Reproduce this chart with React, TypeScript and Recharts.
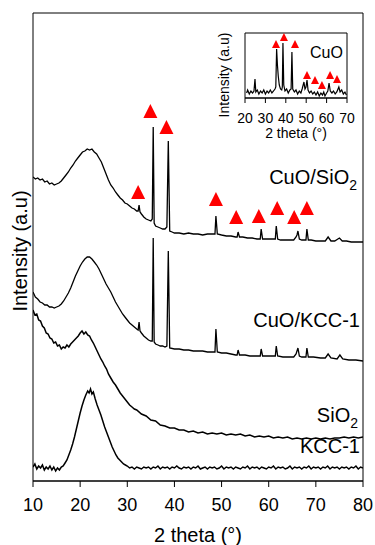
import React from 'react';
import { ComposedChart, Line, Scatter, XAxis, YAxis, ReferenceArea } from 'recharts';

// 2 theta ticks
const mainTicks = [10, 20, 30, 40, 50, 60, 70, 80];
const insetTicks = [20, 30, 40, 50, 60, 70];

// curves: [2theta, intensity (offset, a.u.)]
const cuoSio2: [number, number][] = [
  [10.0, 304], [10.5, 302], [11.0, 303], [11.5, 301], [12.0, 302], [12.5, 299], [13.0, 300], [13.5, 297],
  [14.0, 298], [14.5, 296], [15.0, 297], [15.5, 298], [16.0, 300], [16.5, 303], [17.0, 306], [17.5, 309],
  [18.0, 313], [18.5, 316], [19.0, 320], [19.5, 323], [20.0, 326], [20.5, 329], [21.0, 330], [21.5, 332],
  [22.0, 331], [22.5, 332], [23.0, 329], [23.5, 327], [24.0, 323], [24.5, 319], [25.0, 313], [25.5, 307],
  [26.0, 301], [26.5, 296], [27.0, 293], [27.5, 289], [28.0, 286], [28.5, 283], [29.0, 281], [29.5, 278],
  [30.0, 277], [30.5, 275], [31.0, 273], [31.5, 272], [32.0, 270], [32.3, 270], [32.5, 276], [32.7, 269],
  [33.0, 267], [33.5, 264], [34.0, 262], [34.5, 261], [35.0, 260], [35.3, 262], [35.5, 354], [35.7, 258],
  [36.0, 255], [36.5, 254], [37.0, 253], [37.5, 252], [38.0, 252], [38.4, 254], [38.7, 340], [39.0, 250],
  [39.5, 249], [40.0, 248], [41.0, 248], [42.0, 247], [43.0, 248], [44.0, 247], [45.0, 247], [46.0, 246],
  [47.0, 247], [48.0, 247], [48.6, 247], [48.8, 265], [49.1, 247], [50.0, 246], [51.0, 245], [52.0, 245],
  [53.0, 244], [53.3, 244], [53.5, 249], [53.8, 244], [54.5, 244], [55.5, 243], [56.5, 243], [57.5, 242],
  [58.2, 242], [58.4, 252], [58.7, 242], [59.5, 242], [60.5, 242], [61.4, 242], [61.6, 255], [61.9, 242],
  [62.5, 241], [63.5, 241], [64.5, 241], [65.3, 241], [65.8, 244], [66.0, 246], [66.2, 250], [66.5, 242],
  [67.0, 241], [67.9, 241], [68.1, 252], [68.4, 241], [69.0, 241], [70.0, 240], [71.0, 240], [72.0, 240],
  [72.6, 244], [73.2, 240], [74.0, 240], [75.0, 243], [75.6, 240], [76.5, 240], [77.5, 239], [78.5, 239],
  [80.0, 239],
];

const cuoKcc: [number, number][] = [
  [10.0, 189], [10.5, 184], [11.0, 182], [11.5, 179], [12.0, 178], [12.5, 176], [13.0, 176], [13.5, 174],
  [14.0, 174], [14.5, 173], [15.0, 174], [15.5, 175], [16.0, 177], [16.5, 180], [17.0, 184], [17.5, 188],
  [18.0, 193], [18.5, 199], [19.0, 205], [19.5, 210], [20.0, 215], [20.5, 219], [21.0, 222], [21.5, 224],
  [22.0, 224], [22.5, 222], [23.0, 219], [23.5, 216], [24.0, 212], [24.5, 207], [25.0, 202], [25.5, 197],
  [26.0, 193], [26.5, 189], [27.0, 184], [27.5, 179], [28.0, 175], [28.5, 171], [29.0, 167], [29.5, 164],
  [30.0, 161], [30.5, 158], [31.0, 156], [31.5, 154], [32.0, 152], [32.3, 151], [32.5, 159], [32.7, 150],
  [33.0, 148], [33.5, 145], [34.0, 143], [34.5, 141], [35.0, 140], [35.3, 140], [35.5, 243], [35.7, 139],
  [36.0, 137], [36.5, 136], [37.0, 135], [37.5, 135], [38.0, 134], [38.4, 135], [38.7, 230], [39.0, 133],
  [40.0, 132], [41.0, 132], [42.0, 131], [43.0, 131], [44.0, 130], [45.0, 130], [46.0, 130], [47.0, 129],
  [48.0, 129], [48.6, 129], [48.8, 152], [49.1, 129], [50.0, 128], [51.0, 128], [52.0, 127], [53.0, 126],
  [53.3, 126], [53.5, 131], [53.8, 126], [55.0, 126], [56.0, 125], [57.0, 125], [58.2, 125], [58.4, 132],
  [58.7, 125], [59.5, 125], [60.5, 125], [61.4, 125], [61.6, 135], [61.9, 125], [63.0, 124], [64.0, 124],
  [65.3, 124], [65.8, 127], [66.2, 133], [66.5, 125], [67.0, 124], [67.9, 124], [68.1, 133], [68.4, 124],
  [69.5, 124], [71.0, 123], [72.0, 123], [72.6, 127], [73.2, 123], [74.5, 122], [75.1, 126], [75.7, 122],
  [77.0, 121], [78.5, 121], [80.0, 120],
];

const sio2: [number, number][] = [
  [10.0, 171], [10.4, 166], [10.8, 167], [11.2, 161], [11.6, 160], [12.0, 155], [12.4, 153], [12.8, 148],
  [13.2, 147], [13.6, 143], [14.0, 142], [14.4, 138], [14.8, 139], [15.2, 135], [15.6, 136], [16.0, 132],
  [16.4, 134], [16.8, 133], [17.2, 136], [17.6, 134], [18.0, 137], [18.4, 139], [18.8, 141], [19.2, 143],
  [19.6, 145], [20.0, 148], [20.4, 150], [20.8, 147], [21.2, 149], [21.6, 146], [22.0, 145], [22.4, 141],
  [22.8, 138], [23.2, 134], [23.6, 130], [24.0, 126], [24.4, 122], [24.8, 119], [25.2, 115], [25.6, 112],
  [26.0, 107], [26.5, 103], [27.0, 99], [27.5, 96], [28.0, 92], [28.5, 88], [29.0, 85], [29.5, 82],
  [30.0, 79], [30.5, 76], [31.0, 74], [31.5, 72], [32.0, 71], [33.0, 67], [34.0, 65], [35.0, 61],
  [36.0, 60], [37.0, 56], [38.0, 55], [39.0, 53], [40.0, 53], [41.0, 51], [42.0, 51], [43.0, 49],
  [44.0, 50], [45.0, 48], [46.0, 49], [47.0, 47], [48.0, 48], [49.0, 47], [50.0, 48], [51.0, 46],
  [52.0, 47], [53.0, 46], [54.0, 47], [55.0, 45], [56.0, 46], [57.0, 44], [58.0, 45], [59.0, 44],
  [60.0, 45], [61.0, 43], [62.0, 44], [63.0, 43], [64.0, 44], [65.0, 42], [66.0, 43], [67.0, 42],
  [68.0, 43], [69.0, 42], [70.0, 43], [71.0, 42], [72.0, 43], [73.0, 42], [74.0, 43], [75.0, 43],
  [76.0, 44], [77.0, 43], [78.0, 44], [79.0, 43], [80.0, 44],
];

const kcc1: [number, number][] = [
  [10.0, 14], [10.4, 17], [10.8, 12], [11.2, 15], [11.6, 13], [12.0, 16], [12.4, 11], [12.8, 14],
  [13.2, 12], [13.6, 15], [14.0, 11], [14.4, 14], [14.8, 10], [15.2, 13], [15.6, 11], [16.0, 14],
  [16.4, 15], [16.8, 18], [17.2, 21], [17.6, 26], [18.0, 31], [18.4, 37], [18.8, 44], [19.2, 52],
  [19.6, 60], [20.0, 68], [20.4, 75], [20.8, 81], [21.2, 86], [21.6, 90], [21.9, 88], [22.2, 92],
  [22.5, 87], [22.8, 89], [23.2, 82], [23.6, 76], [24.0, 71], [24.4, 66], [24.8, 60], [25.2, 54],
  [25.6, 49], [26.0, 44], [26.4, 39], [26.8, 34], [27.2, 30], [27.6, 26], [28.0, 23], [28.4, 21],
  [28.8, 19], [29.2, 17], [29.6, 16], [30.0, 15], [30.5, 13], [31.0, 14], [31.5, 12], [32.0, 14],
  [32.5, 13], [33.0, 12], [33.5, 14], [34.0, 13], [34.5, 14], [35.0, 12], [35.5, 14], [36.0, 13],
  [36.5, 15], [37.0, 12], [37.5, 14], [38.0, 13], [38.5, 14], [39.0, 12], [39.5, 14], [40.0, 13],
  [40.5, 15], [41.0, 13], [41.5, 12], [42.0, 14], [42.5, 13], [43.0, 14], [43.5, 12], [44.0, 14],
  [44.5, 13], [45.0, 15], [45.5, 12], [46.0, 13], [46.5, 14], [47.0, 12], [47.5, 14], [48.0, 13],
  [48.5, 14], [49.0, 12], [49.5, 13], [50.0, 15], [50.5, 12], [51.0, 14], [51.5, 13], [52.0, 14],
  [52.5, 12], [53.0, 14], [53.5, 13], [54.0, 12], [54.5, 14], [55.0, 13], [55.5, 15], [56.0, 12],
  [56.5, 14], [57.0, 13], [57.5, 14], [58.0, 12], [58.5, 14], [59.0, 13], [59.5, 12], [60.0, 14],
  [60.5, 13], [61.0, 15], [61.5, 12], [62.0, 14], [62.5, 13], [63.0, 14], [63.5, 12], [64.0, 13],
  [64.5, 15], [65.0, 12], [65.5, 14], [66.0, 13], [66.5, 14], [67.0, 12], [67.5, 14], [68.0, 13],
  [68.5, 15], [69.0, 12], [69.5, 14], [70.0, 13], [70.5, 14], [71.0, 12], [71.5, 14], [72.0, 13],
  [72.5, 15], [73.0, 12], [73.5, 14], [74.0, 13], [74.5, 14], [75.0, 12], [75.5, 14], [76.0, 13],
  [76.5, 14], [77.0, 12], [77.5, 14], [78.0, 13], [78.5, 15], [79.0, 12], [79.5, 14], [80.0, 13],
];

// CuO reference pattern (inset)
const cuoRef: [number, number][] = [
  [20.8, 5], [21.3, 8], [22.1, 4], [22.9, 7], [23.7, 5], [24.4, 7], [24.9, 19], [25.3, 6], [26.0, 8],
  [26.8, 4], [27.6, 7], [28.4, 5], [29.2, 8], [30.0, 4], [30.8, 7], [31.6, 5], [32.4, 8], [33.2, 5],
  [34.0, 7], [34.7, 9], [35.1, 11], [35.5, 49], [35.9, 33], [36.3, 22], [36.8, 13], [37.4, 9], [38.0, 8],
  [38.3, 11], [38.6, 55], [39.0, 13], [39.6, 7], [40.4, 9], [41.2, 5], [42.0, 8], [42.6, 9], [43.0, 46],
  [43.4, 9], [44.2, 6], [45.0, 8], [45.8, 4], [46.6, 7], [47.4, 5], [48.0, 9], [48.9, 16], [49.4, 9],
  [49.9, 11], [50.4, 18], [50.9, 8], [51.6, 5], [52.4, 7], [53.2, 4], [54.0, 6], [54.8, 3], [55.6, 6],
  [56.4, 2], [57.2, 5], [58.0, 3], [58.6, 6], [59.2, 2], [60.0, 5], [60.6, 7], [61.2, 15], [61.8, 7],
  [62.6, 5], [63.4, 7], [64.2, 4], [65.0, 6], [65.6, 9], [66.0, 11], [66.6, 6], [67.4, 8], [68.2, 4],
  [69.0, 6], [69.7, 3],
];

// CuO reflection markers
const mainMarks: [number, number][] = [
  [34.9, 370], [38.3, 354], [32.3, 289], [48.8, 282], [53.1, 264], [57.9, 265], [61.8, 273], [65.4, 264], [68.1, 273],
];
const insetMarks: [number, number][] = [
  [35.2, 54], [39.1, 61], [44.5, 54], [50.4, 23], [54.3, 18], [57.7, 13], [61.7, 23], [65.1, 19],
];

const toPts = (arr: [number, number][]) => arr.map(([x, y]) => ({ x, y }));

const FONT = '"Liberation Sans", Arial, sans-serif';

const triangle = (w: number, h: number) => (props: any) => {
  const { cx, cy } = props;
  if (cx == null || cy == null) return <g />;
  const pts = `${cx},${cy - h / 2} ${cx + w / 2},${cy + h / 2} ${cx - w / 2},${cy + h / 2}`;
  return <polygon points={pts} fill="#ff0000" stroke="none" />;
};

const abs: React.CSSProperties = { position: 'absolute', left: 0, top: 0 };

export default function App() {
  return (
    <div style={{ position: 'absolute', left: 0, top: 0, width: 375, height: 545, background: '#fff', fontFamily: FONT }}>
      <div style={abs}>
        <ComposedChart width={375} height={545} margin={{ top: 13, right: 12, bottom: 0, left: 33 }}>
          <XAxis
            type="number"
            dataKey="x"
            domain={[10, 80]}
            ticks={mainTicks}
            allowDataOverflow
            height={64}
            tickSize={6}
            tickMargin={11}
            stroke="#000"
            tick={{ fill: '#000', fontSize: 18, fontFamily: FONT }}
          />
          <YAxis type="number" domain={[0, 468]} hide allowDataOverflow />
          <ReferenceArea x1={10} x2={80} y1={0} y2={468} fill="none" stroke="#000" strokeWidth={1} ifOverflow="visible" />
          <Line data={toPts(kcc1)} dataKey="y" stroke="#000" strokeWidth={1.5} dot={false} isAnimationActive={false} />
          <Line data={toPts(sio2)} dataKey="y" stroke="#000" strokeWidth={1.5} dot={false} isAnimationActive={false} />
          <Line data={toPts(cuoKcc)} dataKey="y" stroke="#000" strokeWidth={1.3} dot={false} isAnimationActive={false} />
          <Line data={toPts(cuoSio2)} dataKey="y" stroke="#000" strokeWidth={1.3} dot={false} isAnimationActive={false} />
          <Scatter data={toPts(mainMarks)} dataKey="y" shape={triangle(14, 14)} isAnimationActive={false} />
        </ComposedChart>
      </div>
      <div style={abs}>
        <ComposedChart width={375} height={545} margin={{ top: 33, right: 28, bottom: 404, left: 245 }}>
          <XAxis
            type="number"
            dataKey="x"
            domain={[20, 70]}
            ticks={insetTicks}
            allowDataOverflow
            height={43}
            tickSize={5}
            tickMargin={10}
            stroke="#000"
            tick={{ fill: '#000', fontSize: 14, fontFamily: FONT }}
          />
          <YAxis type="number" domain={[0, 65]} hide allowDataOverflow />
          <ReferenceArea x1={20} x2={70} y1={0} y2={65} fill="#fff" fillOpacity={1} stroke="#000" strokeWidth={1} ifOverflow="visible" />
          <Line data={toPts(cuoRef)} dataKey="y" stroke="#000" strokeWidth={1.2} dot={false} isAnimationActive={false} />
          <Scatter data={toPts(insetMarks)} dataKey="y" shape={triangle(8, 8)} isAnimationActive={false} />
        </ComposedChart>
      </div>
      <svg width={375} height={545} style={{ ...abs, pointerEvents: 'none' }} fontFamily={FONT} fill="#000">
        <text x={198} y={542} fontSize={20} textAnchor="middle">2 theta (°)</text>
        <text x={27} y={251} fontSize={20} textAnchor="middle" transform="rotate(-90 27 251)">Intensity (a.u)</text>
        <text x={357} y={184} fontSize={20} textAnchor="end">
          CuO/SiO<tspan fontSize={14} dy={6}>2</tspan>
        </text>
        <text x={360} y={327} fontSize={20} textAnchor="end">CuO/KCC-1</text>
        <text x={358} y={422} fontSize={20} textAnchor="end">
          SiO<tspan fontSize={14} dy={6}>2</tspan>
        </text>
        <text x={360} y={453} fontSize={20} textAnchor="end">KCC-1</text>
        <text x={310} y={58} fontSize={16}>CuO</text>
        <text x={296} y={138} fontSize={14} textAnchor="middle">2 theta (°)</text>
        <text x={229} y={75} fontSize={14} textAnchor="middle" transform="rotate(-90 229 75)">Intensity (a.u)</text>
      </svg>
    </div>
  );
}
